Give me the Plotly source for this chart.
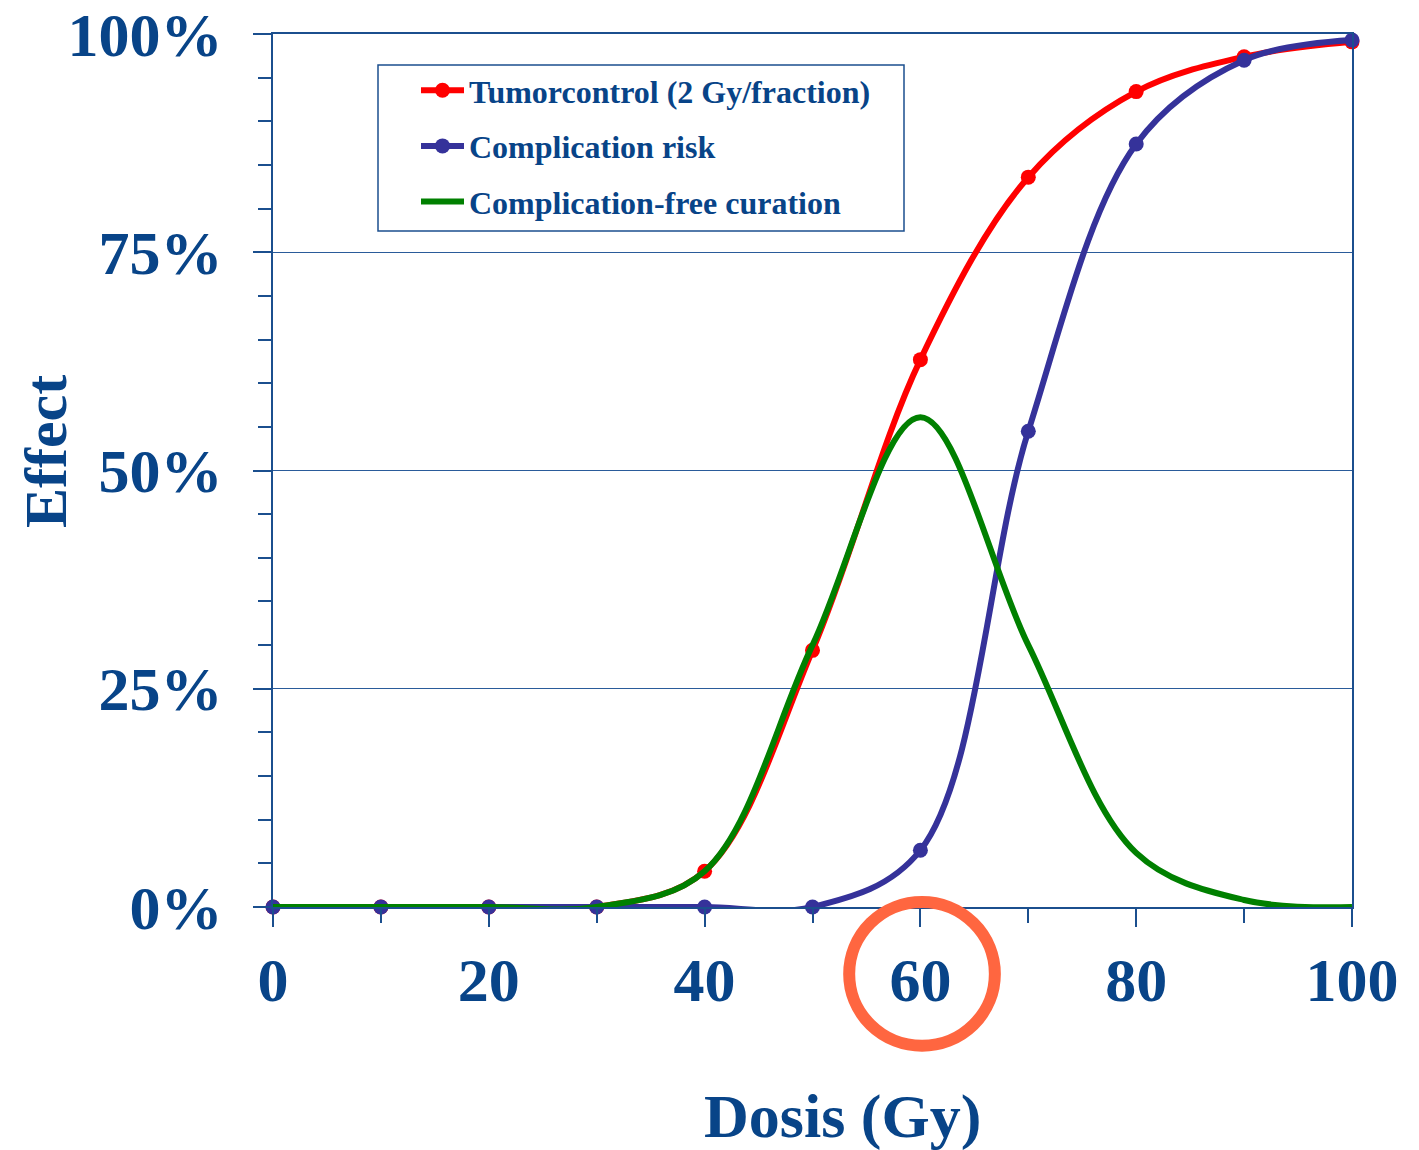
import plotly.graph_objects as go

dose = [0, 10, 20, 30, 40, 50, 60, 70, 80, 90, 100]
tumor_control = [0.0, 0.0, 0.0, 0.0, 0.041, 0.294, 0.627, 0.836, 0.934, 0.974, 0.991]
complication_risk = [0.0, 0.0, 0.0, 0.0, 0.0, 0.0, 0.065, 0.545, 0.874, 0.970, 0.993]
complication_free = [0.0, 0.0, 0.0, 0.0, 0.041, 0.30, 0.561, 0.30, 0.062, 0.008, 0.0]

names = ["Tumorcontrol (2 Gy/fraction)", "Complication risk", "Complication-free curation"]
y_ticks = [0, 0.25, 0.5, 0.75, 1.0]
x_ticks = [0, 20, 40, 60, 80, 100]

TXT = "#084488"
AX = "#1B4F8E"
GRID = "#2A5B9A"
FONT = "Liberation Serif"

W, H = 1419, 1150
L, R, T, B = 273, 1352, 34, 907
PW, PH = R - L, B - T


def px(xp):
    return (xp - L) / PW


def py(yp):
    return (B - yp) / PH


fig = go.Figure()
fig.add_trace(go.Scatter(
    x=dose, y=tumor_control, name=names[0], mode="lines+markers",
    line=dict(color="#FF0000", width=6, shape="spline", smoothing=1),
    marker=dict(color="#FF0000", size=15), cliponaxis=False, legendgroup="a"))
fig.add_trace(go.Scatter(
    x=dose, y=complication_risk, name=names[1], mode="lines+markers",
    line=dict(color="#35329A", width=6, shape="spline", smoothing=1),
    marker=dict(color="#35329A", size=15), cliponaxis=False, legendgroup="b"))
fig.add_trace(go.Scatter(
    x=dose, y=complication_free, name=names[2], mode="lines",
    line=dict(color="#008000", width=6, shape="spline", smoothing=1),
    cliponaxis=False, legendgroup="c"))

fig.update_xaxes(
    range=[0, 100], tickvals=x_ticks, ticks="outside", ticklen=18, tickwidth=1.5,
    tickcolor=AX, showline=True, linecolor=AX, linewidth=2, mirror=True,
    showgrid=False, zeroline=False, ticklabelstandoff=0, automargin=False,
    tickfont=dict(family=FONT, size=62, color=TXT, weight="bold"),
    minor=dict(dtick=10, ticks="outside", ticklen=14, tickwidth=1.5, tickcolor=AX, showgrid=False))
fig.update_yaxes(
    range=[0, 1], tickvals=y_ticks, tickformat=".0%", ticks="outside", ticklen=18, tickwidth=1.5,
    tickcolor=AX, showline=True, linecolor=AX, linewidth=2, mirror=True,
    showgrid=True, gridcolor=GRID, gridwidth=1, zeroline=False, ticklabelstandoff=18, automargin=False,
    tickfont=dict(family=FONT, size=62, color=TXT, weight="bold"),
    minor=dict(dtick=0.05, ticks="outside", ticklen=13, tickwidth=1.5, tickcolor=AX, showgrid=False))

fig.add_annotation(text="Effect", xref="paper", yref="paper", x=px(46), y=py(451),
                   textangle=-90, showarrow=False, xanchor="center", yanchor="middle",
                   font=dict(family=FONT, size=60, color=TXT, weight="bold"))
fig.add_annotation(text="Dosis (Gy)", xref="paper", yref="paper", x=px(842), y=py(1116),
                   showarrow=False, xanchor="center", yanchor="middle",
                   font=dict(family=FONT, size=62, color=TXT, weight="bold"))

fig.add_shape(type="circle", xref="x", yref="paper", x0=53.4, x1=66.9, y0=-0.159, y1=0.0057,
              line=dict(color="#FF6640", width=12), layer="above")

# legend frame
fig.add_shape(type="rect", xref="paper", yref="paper", x0=px(378), x1=px(904), y0=py(231), y1=py(65),
              line=dict(color=AX, width=1.5), fillcolor="white", layer="below")

fig.update_layout(
    width=W, height=H,
    margin=dict(l=L, r=W - R, t=T, b=H - B, autoexpand=False),
    paper_bgcolor="white", plot_bgcolor="rgba(0,0,0,0)",
    showlegend=True,
    legend=dict(x=px(416), y=py(63), xanchor="left", yanchor="top",
                bgcolor="rgba(0,0,0,0)", borderwidth=0, tracegroupgap=11, itemwidth=43,
                font=dict(family=FONT, size=32, color=TXT, weight="bold")),
)

fig.write_html("out.html")
